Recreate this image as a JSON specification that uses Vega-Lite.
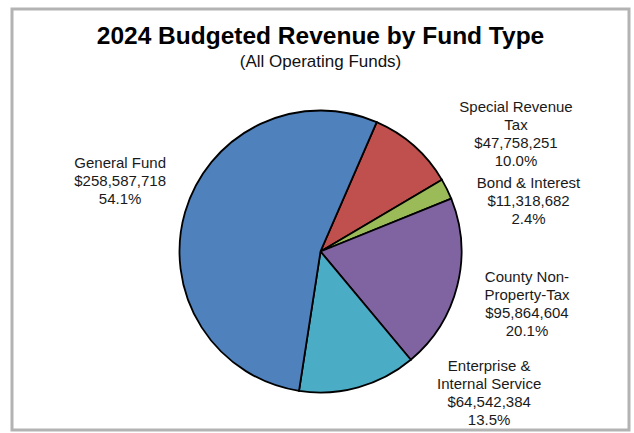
{
  "$schema": "https://vega.github.io/schema/vega-lite/v6.json",
  "width": 617,
  "height": 421,
  "autosize": "none",
  "padding": {"left": 12, "top": 9, "right": 5, "bottom": 3},
  "background": "white",
  "view": {"stroke": "#b3b3b3", "strokeWidth": 3, "fill": "white"},
  "config": {"view": {"stroke": "#b3b3b3", "strokeWidth": 3}, "font": "Liberation Sans"},
  "title": {
    "text": "2024 Budgeted Revenue by Fund Type",
    "subtitle": "(All Operating Funds)",
    "font": "Liberation Sans",
    "subtitleFont": "Liberation Sans",
    "fontSize": 24.5,
    "fontWeight": "bold",
    "color": "#000000",
    "subtitleFontSize": 17,
    "subtitleColor": "#111111",
    "subtitlePadding": 5,
    "anchor": "middle",
    "offset": -62
  },
  "data": {
    "values": [
      {"fund": "Special Revenue Tax", "amount": 47758251, "order": 1, "label": "Special Revenue\nTax\n$47,758,251\n10.0%"},
      {"fund": "Bond & Interest", "amount": 11318682, "order": 2, "label": "Bond & Interest\n$11,318,682\n2.4%"},
      {"fund": "County Non-Property-Tax", "amount": 95864604, "order": 3, "label": "County Non-\nProperty-Tax\n$95,864,604\n20.1%"},
      {"fund": "Enterprise & Internal Service", "amount": 64542384, "order": 4, "label": "Enterprise &\nInternal Service\n$64,542,384\n13.5%"},
      {"fund": "General Fund", "amount": 258587718, "order": 5, "label": "General Fund\n$258,587,718\n54.1%"}
    ]
  },
  "encoding": {
    "theta": {"field": "amount", "type": "quantitative", "stack": true, "scale": {"range": [0.41, 6.6932]}},
    "order": {"field": "order", "type": "quantitative"}
  },
  "layer": [
    {
      "mark": {"type": "arc", "outerRadius": 141, "stroke": "#000000", "strokeWidth": 1.8, "yOffset": 32},
      "encoding": {
        "color": {
          "field": "fund",
          "type": "nominal",
          "scale": {
            "domain": ["Special Revenue Tax", "Bond & Interest", "County Non-Property-Tax", "Enterprise & Internal Service", "General Fund"],
            "range": ["#C0504D", "#9BBB59", "#8064A2", "#4BACC6", "#4F81BD"]
          },
          "legend": null
        }
      }
    },
    {
      "mark": {"type": "text", "radius": 243, "thetaOffset": 0.211, "yOffset": 32, "lineBreak": "\n", "fontSize": 15, "lineHeight": 18, "align": "center", "baseline": "middle", "color": "#1a1a1a"},
      "encoding": {"text": {"condition": {"test": "datum.fund === 'Special Revenue Tax'", "field": "label"}, "value": ""}}
    },
    {
      "mark": {"type": "text", "radius": 219, "thetaOffset": 0.141, "yOffset": 32, "lineBreak": "\n", "fontSize": 15, "lineHeight": 18, "align": "center", "baseline": "middle", "color": "#1a1a1a"},
      "encoding": {"text": {"condition": {"test": "datum.fund === 'Bond & Interest'", "field": "label"}, "value": ""}}
    },
    {
      "mark": {"type": "text", "radius": 208, "thetaOffset": -0.124, "yOffset": 32, "lineBreak": "\n", "fontSize": 15, "lineHeight": 18, "align": "center", "baseline": "middle", "color": "#1a1a1a"},
      "encoding": {"text": {"condition": {"test": "datum.fund === 'County Non-Property-Tax'", "field": "label"}, "value": ""}}
    },
    {
      "mark": {"type": "text", "radius": 204, "thetaOffset": -0.702, "yOffset": 32, "lineBreak": "\n", "fontSize": 15, "lineHeight": 18, "align": "center", "baseline": "middle", "color": "#1a1a1a"},
      "encoding": {"text": {"condition": {"test": "datum.fund === 'Enterprise & Internal Service'", "field": "label"}, "value": ""}}
    },
    {
      "mark": {"type": "text", "radius": 219, "thetaOffset": 0.134, "yOffset": 32, "lineBreak": "\n", "fontSize": 15, "lineHeight": 18, "align": "center", "baseline": "middle", "color": "#1a1a1a"},
      "encoding": {"text": {"condition": {"test": "datum.fund === 'General Fund'", "field": "label"}, "value": ""}}
    }
  ]
}
